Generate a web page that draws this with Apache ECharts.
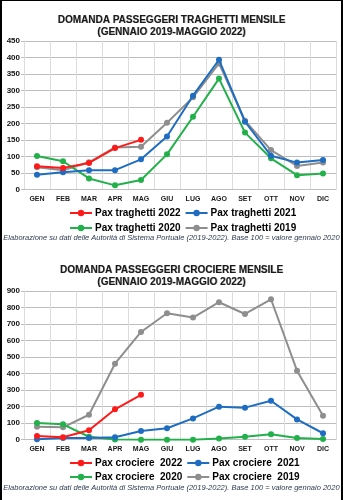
<!DOCTYPE html>
<html>
<head>
<meta charset="utf-8">
<script src="https://cdn.jsdelivr.net/npm/echarts@6/dist/echarts.min.js"></script>
<style>
html,body{margin:0;padding:0;background:#fff;}
#wrap{position:relative;width:343px;height:500px;}
#chart{position:absolute;left:0;top:0;width:343px;height:500px;}
#frame{position:absolute;left:0;top:0;width:339px;height:499px;border-left:2px solid #000;border-right:2px solid #000;border-top:1px solid #000;pointer-events:none;}
</style>
</head>
<body>
<div id="wrap"><div id="chart"></div><div id="frame"></div></div>
<script>
var months = ['GEN','FEB','MAR','APR','MAG','GIU','LUG','AGO','SET','OTT','NOV','DIC'];

var ferryTitle = 'DOMANDA PASSEGGERI TRAGHETTI MENSILE\n(GENNAIO 2019-MAGGIO 2022)';
var cruiseTitle = 'DOMANDA PASSEGGERI CROCIERE MENSILE\n(GENNAIO 2019-MAGGIO 2022)';
var caption = 'Elaborazione su dati delle Autorità di Sistema Portuale (2019-2022). Base 100 = valore gennaio 2020';

var ferryNames = ['Pax traghetti 2022','Pax traghetti 2021','Pax traghetti 2020','Pax traghetti 2019'];
var ferry2022 = [70, 65, 80, 125, 150];
var ferry2021 = [44, 52, 58, 58, 91, 160, 284, 393, 205, 102, 81, 89];
var ferry2020 = [101, 85, 33, 12, 28, 106, 220, 336, 172, 94, 43, 48];
var ferry2019 = [67, 58, 82, 127, 129, 202, 279, 382, 208, 119, 71, 81];
var ferryTicks = {min: 0, max: 450, interval: 50};

var cruiseNames = ['Pax crociere  2022','Pax crociere  2021','Pax crociere  2020','Pax crociere  2019'];
var cruise2022 = [22, 15, 57, 184, 272];
var cruise2021 = [2, 10, 10, 15, 53, 69, 129, 200, 194, 236, 123, 39];
var cruise2020 = [101, 93, 18, 1, 0, 0, 0, 8, 18, 33, 10, 4];
var cruise2019 = [79, 75, 151, 460, 652, 765, 739, 832, 761, 850, 418, 145];
var cruiseTicks = {min: 0, max: 900, interval: 100};

var colors = ['#ff1a1a', '#1f6dc1', '#22b04b', '#8e8e8e'];

var chart = echarts.init(document.getElementById('chart'), null, {renderer: 'canvas'});

function xAx(gi) {
  return {
    type: 'category', gridIndex: gi, data: months, boundaryGap: true,
    axisLine: {show: true, lineStyle: {color: '#bfbfbf', width: 1}},
    axisTick: {show: false},
    axisLabel: {color: '#1a1a1a', fontWeight: 'bold', fontSize: 7, fontFamily: 'Liberation Sans', margin: 6},
    splitLine: {show: true, lineStyle: {color: '#dcdcdc', width: 1}}
  };
}
function yAx(gi, t) {
  return {
    type: 'value', gridIndex: gi, min: t.min, max: t.max, interval: t.interval,
    axisLine: {show: true, lineStyle: {color: '#dcdcdc'}},
    axisTick: {show: true, length: 3, lineStyle: {color: '#bfbfbf'}},
    axisLabel: {color: '#111', fontWeight: 'bold', fontSize: 8, fontFamily: 'Liberation Sans', margin: 4},
    splitLine: {show: true, lineStyle: {color: '#bdbdbd', width: 1}}
  };
}
function ser(name, data, i, gi) {
  return {
    name: name, type: 'line', data: data, xAxisIndex: gi, yAxisIndex: gi,
    symbol: 'circle', symbolSize: 6, showSymbol: true,
    lineStyle: {color: colors[i], width: 2},
    itemStyle: {color: colors[i]},
    emphasis: {disabled: true}, animation: false, z: 10 - i
  };
}
function leg(names, top) {
  return {
    data: names, left: 64, top: top, itemWidth: 22, itemHeight: 8, itemGap: 4,
    textStyle: {color: '#000', fontWeight: 'bold', fontSize: 10, fontFamily: 'Liberation Sans', padding: [0, 0, 0, -2]},
    selectedMode: false
  };
}
var titleStyle = {color: '#1a1a1a', fontWeight: 'bold', fontSize: 10, fontFamily: 'Liberation Sans', lineHeight: 12,
  textShadowColor: 'rgba(0,0,0,0.35)', textShadowOffsetX: 0.6, textShadowOffsetY: 0.6, textShadowBlur: 0.5};
var capStyle = {color: '#2c3a50', fontStyle: 'italic', fontWeight: 'normal', fontSize: 7.5, fontFamily: 'Liberation Sans'};

chart.setOption({
  animation: false,
  title: [
    {text: ferryTitle, left: 'center', top: 9, textStyle: titleStyle},
    {text: cruiseTitle, left: 'center', top: 259, textStyle: titleStyle},
    {text: caption, left: 'center', top: 234, padding: 0, textStyle: capStyle},
    {text: caption, left: 'center', top: 484, padding: 0, textStyle: capStyle}
  ],
  grid: [
    {left: 24, right: 7, top: 41, height: 148.3},
    {left: 24, right: 7, top: 291, height: 148.7}
  ],
  xAxis: [xAx(0), xAx(1)],
  yAxis: [yAx(0, ferryTicks), yAx(1, cruiseTicks)],
  legend: [
    leg([ferryNames[0], ferryNames[1]], 203),
    leg([ferryNames[2], ferryNames[3]], 218),
    leg([cruiseNames[0], cruiseNames[1]], 453),
    leg([cruiseNames[2], cruiseNames[3]], 467)
  ],
  series: [
    ser(ferryNames[0], ferry2022, 0, 0),
    ser(ferryNames[1], ferry2021, 1, 0),
    ser(ferryNames[2], ferry2020, 2, 0),
    ser(ferryNames[3], ferry2019, 3, 0),
    ser(cruiseNames[0], cruise2022, 0, 1),
    ser(cruiseNames[1], cruise2021, 1, 1),
    ser(cruiseNames[2], cruise2020, 2, 1),
    ser(cruiseNames[3], cruise2019, 3, 1)
  ]
});
</script>
</body>
</html>
